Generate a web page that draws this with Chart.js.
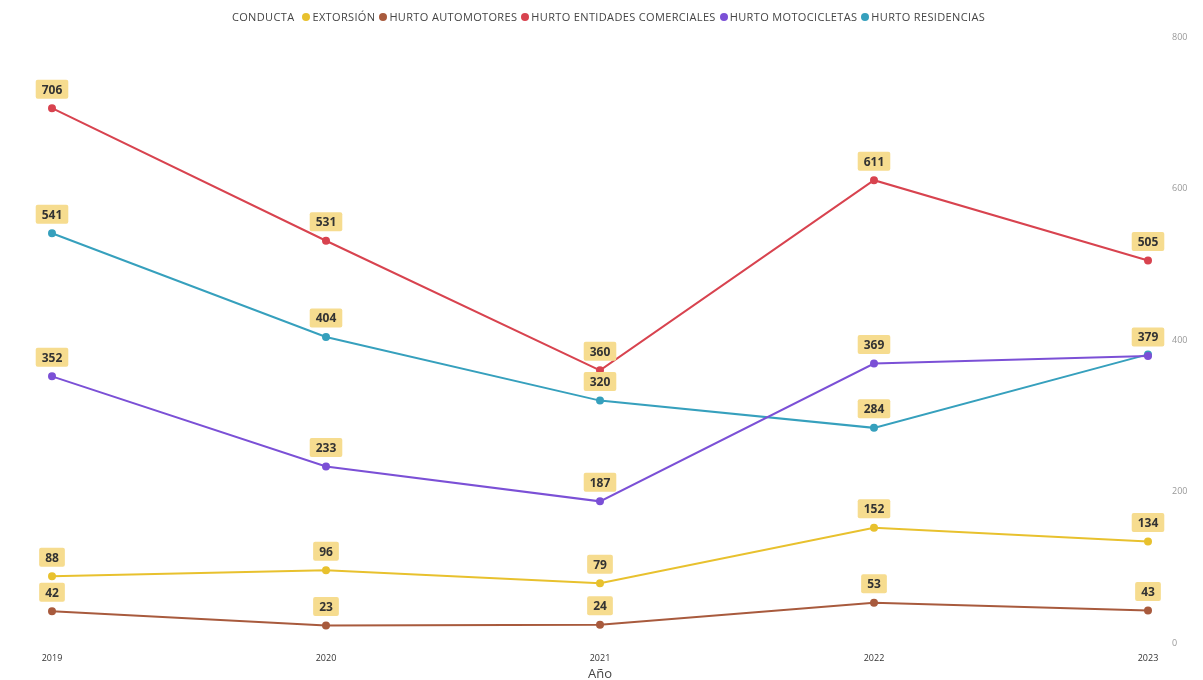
<!DOCTYPE html>
<html>
<head>
<meta charset="utf-8">
<script src="https://cdn.jsdelivr.net/npm/chart.js@4"></script>
<style>
  body { margin: 0; background: #fff; }
  #wrap { position: relative; width: 1203px; height: 680px; }
  #legend {
    position: absolute; top: 9px; left: 0; width: 1203px;
    display: flex; justify-content: center; align-items: center;
    font-family: "Open Sans", sans-serif; font-size: 11px; letter-spacing: 0.35px; color: #444;
    padding-left: 18px; box-sizing: border-box;
  }
  #legend .ttl { margin-right: 8px; }
  #legend .it { display: flex; align-items: center; margin-right: 4px; }
  #legend .dot { width: 8px; height: 8px; border-radius: 50%; margin-right: 2px; }
</style>
</head>
<body>
<div id="wrap">
  <div id="legend"></div>
  <canvas id="chart" width="1203" height="680"></canvas>
</div>
<script>
// datos
const years = ['2019', '2020', '2021', '2022', '2023'];
const extorsion = [88, 96, 79, 152, 134];
const automotores = [42, 23, 24, 53, 43];
const entidades = [706, 531, 360, 611, 505];
const motocicletas = [352, 233, 187, 369, 379];
const residencias = [541, 404, 320, 284, 381];
const yTicks = [0, 200, 400, 600, 800];

const series = [
  { name: 'EXTORSIÓN', data: extorsion, color: '#E8C12E' },
  { name: 'HURTO AUTOMOTORES', data: automotores, color: '#A85A3D' },
  { name: 'HURTO ENTIDADES COMERCIALES', data: entidades, color: '#D8434F' },
  { name: 'HURTO MOTOCICLETAS', data: motocicletas, color: '#7B50D6' },
  { name: 'HURTO RESIDENCIAS', data: residencias, color: '#36A0BD' }
];

// leyenda
const legend = document.getElementById('legend');
legend.innerHTML = '<span class="ttl">CONDUCTA</span>' + series.map(s =>
  `<span class="it"><span class="dot" style="background:${s.color}"></span>${s.name}</span>`).join('');

// etiquetas de datos
const labelPlugin = {
  id: 'labels',
  afterDatasetsDraw(chart) {
    const ctx = chart.ctx;
    const boxes = [];
    ctx.save();
    ctx.font = 'bold 12px "Open Sans", sans-serif';
    ctx.textAlign = 'center';
    ctx.textBaseline = 'middle';
    chart.data.datasets.forEach((ds, i) => {
      chart.getDatasetMeta(i).data.forEach((pt, j) => {
        const txt = String(ds.data[j]);
        const w = ctx.measureText(txt).width + 12;
        const h = 19;
        const x = pt.x - w / 2, y = pt.y - 19 - h / 2;
        const hit = boxes.some(b => x < b.x + b.w && x + w > b.x && y < b.y + b.h && y + h > b.y);
        if (hit) return; // se oculta si se superpone
        boxes.push({ x, y, w, h });
        ctx.fillStyle = '#F6DC8F';
        ctx.beginPath();
        ctx.roundRect(x, y, w, h, 2);
        ctx.fill();
        ctx.fillStyle = '#333';
        ctx.fillText(txt, pt.x, y + h / 2 + 1);
      });
    });
    ctx.restore();
  }
};

new Chart(document.getElementById('chart'), {
  type: 'line',
  data: {
    labels: years,
    datasets: series.map(s => ({
      label: s.name,
      data: s.data,
      borderColor: s.color,
      backgroundColor: s.color,
      borderWidth: 2,
      pointRadius: 3,
      tension: 0
    }))
  },
  options: {
    responsive: false,
    animation: false,
    layout: { padding: { left: 52, top: 37, right: 0, bottom: 0 } },
    plugins: { legend: { display: false }, tooltip: { enabled: false } },
    scales: {
      x: {
        offset: false,
        grid: { display: false },
        border: { display: false },
        ticks: { color: '#333', font: { family: 'Open Sans', size: 9 }, padding: 2, maxRotation: 0 },
        title: { display: true, text: 'Año', color: '#444', font: { family: 'Open Sans', size: 13 }, padding: { top: 0, bottom: -2 } },
        afterFit(s) { s.height = 37; }
      },
      y: {
        position: 'right',
        min: 0, max: 800,
        afterBuildTicks(s) { s.ticks = yTicks.map(v => ({ value: v })); },
        grid: { display: false },
        border: { display: false },
        ticks: { color: '#999', font: { family: 'Open Sans', size: 9 }, padding: 16 },
        afterFit(s) { s.width = 55; }
      }
    }
  },
  plugins: [labelPlugin]
});
</script>
</body>
</html>
